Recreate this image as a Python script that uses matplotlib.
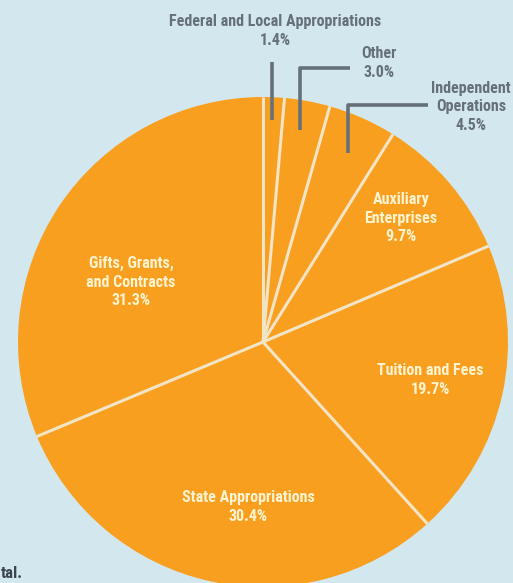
import numpy as np
import matplotlib.pyplot as plt
from matplotlib import font_manager

# ── Дані ──────────────────────────────────────────────────────────────────────
SOURCES = ["Federal and Local Appropriations", "Other", "Independent Operations",
           "Auxiliary Enterprises", "Tuition and Fees", "State Appropriations",
           "Gifts, Grants, and Contracts"]
SHARES = [1.4, 3.0, 4.5, 9.7, 19.7, 30.4, 31.3]

BG = "#d3e8ee"
ORANGE = "#f89f1f"
EDGE = "#f2e4c4"
INNER_TXT = "#fff4cf"
GRAY = "#66707a"

# вузький шрифт, якщо є
names = {f.name for f in font_manager.fontManager.ttflist}
FONT = [n for n in ["Liberation Sans Narrow", "Roboto Condensed", "DejaVu Sans Condensed",
                    "Open Sans Condensed", "Roboto"] if n in names] + ["DejaVu Sans"]

W, H = 513, 583
fig = plt.figure(figsize=(W / 100, H / 100), dpi=100)
fig.patch.set_facecolor(BG)
ax = fig.add_axes([0, 0, 1, 1])
ax.set_facecolor(BG)

# pixel coords: x right, y up (y = H - py)
cx, cy, r = 263, H - 342, 245
wedges, _ = ax.pie(SHARES, startangle=90, counterclock=False,
                   colors=[ORANGE] * len(SHARES), center=(cx, cy), radius=r,
                   wedgeprops=dict(linewidth=0))
# радіальні роздільники
for w in wedges:
    a = np.radians(w.theta1)
    ax.plot([cx, cx + r * np.cos(a)], [cy, cy + r * np.sin(a)],
            color=EDGE, linewidth=2.2, solid_capstyle="butt")
ax.set_xlim(0, W)
ax.set_ylim(0, H)
ax.set_aspect("auto")
ax.axis("off")


def txt(x, y, s, color, size=11.5):
    ax.text(x, H - y, s, ha="center", va="center", color=color, fontsize=size,
            fontweight="bold", family=FONT, linespacing=1.3)


# внутрішні підписи
txt(131, 282, "Gifts, Grants,\nand Contracts\n31.3%", INNER_TXT)
txt(401, 218, "Auxiliary\nEnterprises\n9.7%", INNER_TXT)
txt(430, 380, "Tuition and Fees\n19.7%", INNER_TXT)
txt(248, 507, "State Appropriations\n30.4%", INNER_TXT)

# зовнішні підписи з виносками
txt(275, 31, "Federal and Local Appropriations\n1.4%", GRAY)
txt(379, 63, "Other\n3.0%", GRAY)
txt(471, 107, "Independent\nOperations\n4.5%", GRAY)

lk = dict(color=GRAY, linewidth=2.6, solid_capstyle="butt")
ax.plot([272, 272], [H - 62, H - 120], **lk)
ax.plot([300, 300, 350], [H - 130, H - 68, H - 68], **lk)
ax.plot([348, 348, 428], [H - 153, H - 105, H - 105], **lk)

# обрізаний напис внизу ліворуч
ax.text(1, H - 573, "tal.", ha="left", va="center", color="#3c4650",
        fontsize=12, fontweight="bold", family=FONT)

fig.savefig("out.png", dpi=100, facecolor=BG)
